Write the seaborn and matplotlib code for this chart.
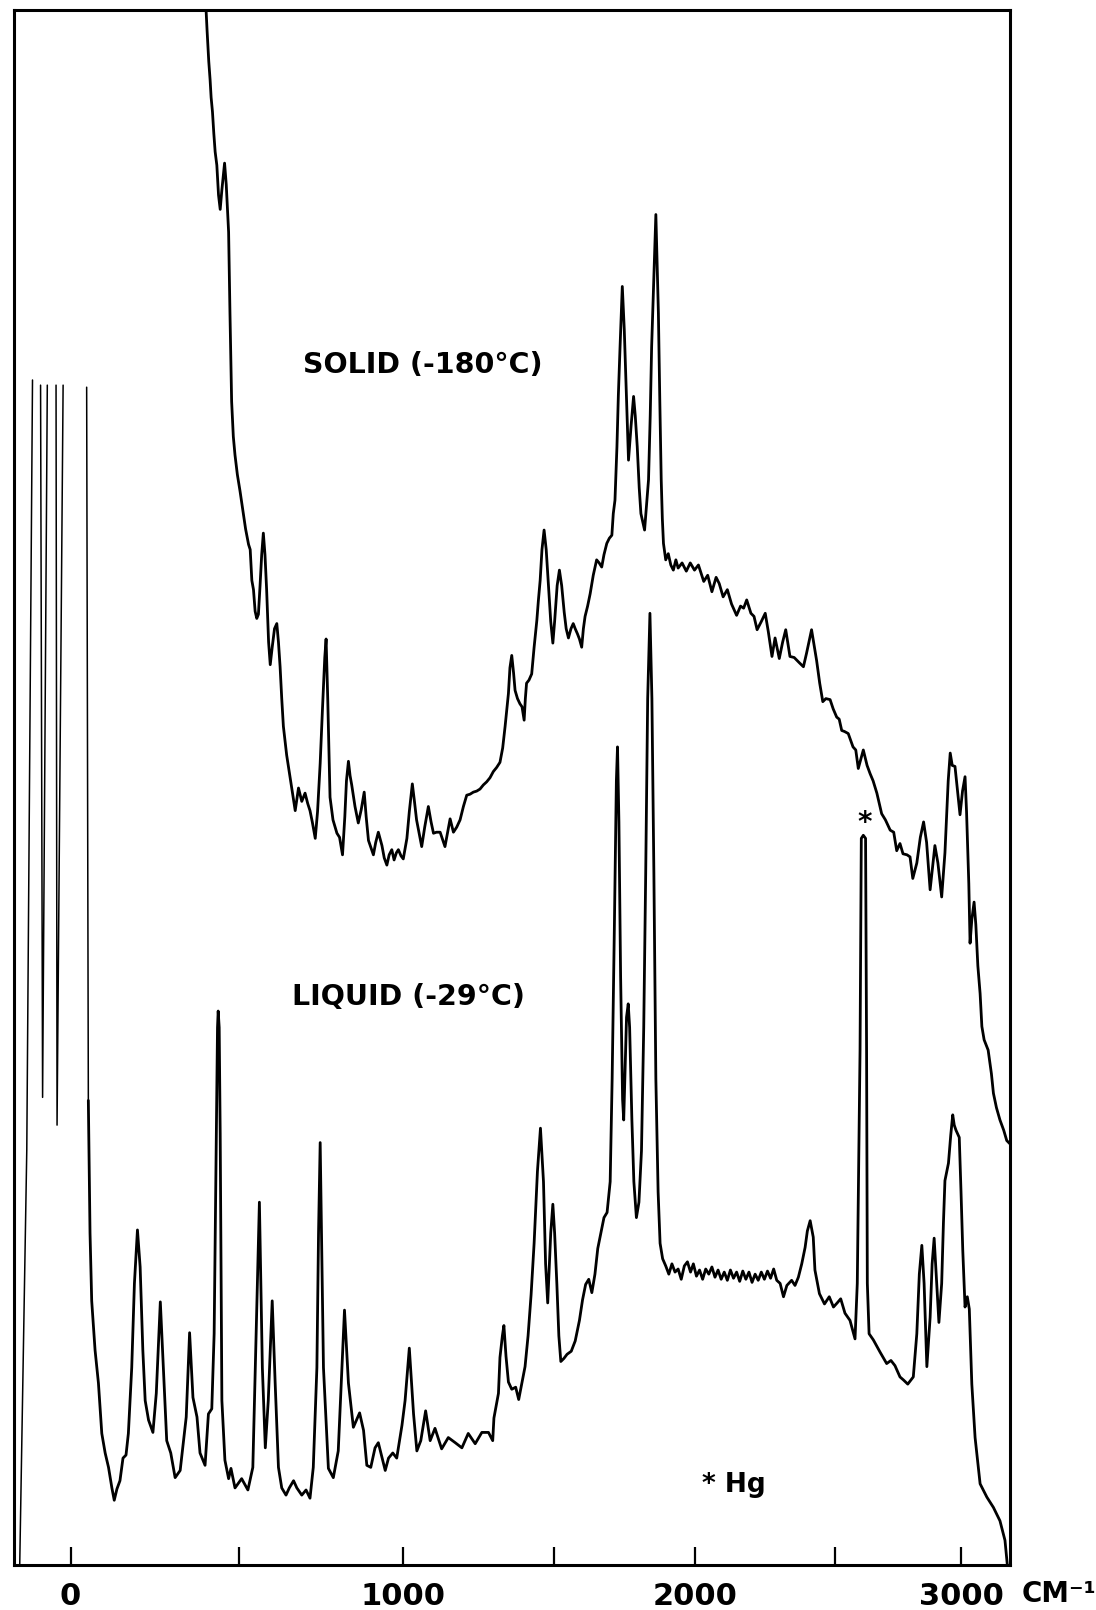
import numpy as np
import pandas as pd
import matplotlib
matplotlib.use("Agg")
import matplotlib.pyplot as plt
from matplotlib.ticker import NullLocator
import seaborn as sns

# ---------------------------------------------------------------------------
# Raman spectra (Raman shift in cm-1, recorder intensity in chart units)
# ---------------------------------------------------------------------------
solid_cm = [
    403, 406, 411, 415, 418, 422, 426, 430, 435, 440, 445, 450, 458, 463, 470, 474, 479, 484, 489, 496,
    504, 514, 521, 530, 535, 540, 545, 550, 555, 560, 565, 570, 575, 580, 585, 591, 596, 602, 609, 616,
    621, 626, 631, 636, 646, 656, 665, 672, 682, 692, 702, 710, 717, 724, 733, 740, 748, 755, 762, 766,
    771, 778, 787, 799, 807, 816, 823, 828, 834, 839, 844, 854, 864, 873, 882, 888, 895, 910, 917, 925,
    936, 943, 951, 958, 966, 973, 980, 986, 994,
    1001, 1013, 1021, 1031, 1038, 1045, 1062, 1072, 1084, 1093, 1101, 1111, 1123, 1132, 1139, 1148, 1156,
    1167, 1178, 1189, 1200, 1211, 1222, 1233, 1244, 1255, 1266, 1277, 1288, 1299, 1310, 1321, 1330, 1338,
    1344, 1349, 1354, 1360, 1366, 1371, 1379, 1387, 1394, 1401, 1405, 1409, 1417, 1426, 1434, 1443, 1448,
    1454, 1460, 1467, 1474, 1481, 1489, 1496,
    1502, 1511, 1519, 1527, 1536, 1543, 1551, 1560, 1568, 1575, 1583, 1590, 1598, 1604, 1610, 1619, 1628,
    1639, 1651, 1660, 1669, 1677, 1687, 1696, 1705, 1710, 1716, 1723, 1728, 1734, 1742, 1749, 1757, 1764,
    1773, 1782, 1788, 1795, 1802, 1808, 1821, 1827, 1835, 1841, 1846, 1854, 1861, 1865, 1870, 1875, 1880,
    1884, 1888, 1896, 1905, 1914, 1923, 1932, 1940, 1954, 1969, 1983, 1998,
    2012, 2031, 2045, 2060, 2075, 2086, 2100, 2115, 2130, 2148, 2162, 2173, 2184, 2199, 2210, 2221, 2236,
    2250, 2261, 2274, 2285, 2300, 2312, 2323, 2338, 2353, 2371, 2386, 2397, 2415, 2433, 2444, 2455, 2466,
    2481, 2492,
    2505, 2515, 2525, 2536, 2551, 2570, 2581, 2591, 2611, 2626, 2638, 2650, 2665, 2684, 2699, 2718, 2732,
    2744, 2757, 2769, 2785, 2797, 2808, 2824, 2838, 2851, 2863, 2877, 2896, 2908, 2923, 2936, 2949, 2957,
    2965, 2976, 2986, 2996, 3006, 3016, 3022, 3031, 3036, 3043, 3052, 3059, 3067, 3076, 3083, 3092, 3108,
    3121, 3129, 3141, 3155, 3170, 3182, 3194,
]
solid_int = [
    1513, 1493, 1463, 1445, 1428, 1414, 1393, 1375, 1362, 1333, 1319, 1338, 1364, 1343, 1297, 1219, 1132,
    1098, 1080, 1061,
    1045, 1023, 1008, 993, 988, 958, 949, 928, 921, 925, 953, 983, 1004, 983, 949, 898, 876, 893, 911, 916,
    898, 874, 843, 816, 788, 767, 748, 734, 756, 743, 751, 741, 734, 723, 707, 733, 780, 833, 883, 901,
    843, 747, 725, 712, 708, 691, 728, 763, 782, 768, 759, 738, 722, 735, 752, 728, 705, 691, 703, 713,
    700, 688, 681, 691, 696, 686, 693, 696, 690,
    687, 707, 733, 760, 743, 725, 699, 718, 738, 723, 712, 713, 713, 705, 699, 713, 726, 713, 718, 725,
    738, 749, 750, 752, 753, 755, 759, 762, 766, 772, 776, 781, 795, 816, 833, 848, 873, 885, 868, 851,
    843, 838, 835, 822, 843, 858, 861, 867, 893, 919, 938, 958, 988, 1007, 988, 955, 918, 897,
    918, 953, 968, 953, 927, 911, 902, 911, 916, 911, 906, 901, 893, 911, 923, 933, 945, 963, 978, 975,
    971, 983, 994, 999, 1002, 1023, 1036, 1088, 1138, 1185, 1244, 1202, 1133, 1075, 1108, 1137, 1118,
    1088, 1048, 1023, 1007, 1028, 1056, 1118, 1185, 1253, 1314, 1273, 1218, 1133, 1056, 1018, 994, 978,
    984, 973, 968, 978, 970, 975, 967, 975, 968,
    973, 957, 963, 947, 961, 955, 942, 949, 935, 924, 933, 931, 939, 926, 923, 910, 918, 926, 908, 884,
    902, 882, 898, 910, 884, 883, 878, 874, 887, 910, 880, 858, 840, 843, 842, 833,
    825, 823, 812, 811, 809, 796, 793, 775, 793, 778, 770, 763, 751, 731, 725, 715, 713, 695, 702, 692,
    691, 689, 668, 683, 708, 723, 703, 657, 700, 683, 650, 693, 763, 790, 778, 777, 753, 730, 753, 767,
    733, 663, 605, 628, 645, 623, 583, 556, 524, 511, 501, 478, 459, 445, 433, 423, 413, 410,
]

liquid_cm = [
    53, 58, 63, 73, 83, 93, 103, 113, 123, 130, 138, 147, 156, 165, 172, 182, 190, 199, 207, 215,
    222, 232, 245, 255, 267, 276, 286, 298, 311, 326, 336, 344, 354, 364, 376, 385, 400, 410, 420, 427,
    432, 437, 439, 442, 445, 450, 459, 470, 477, 489,
    509, 528, 543, 553, 563, 572, 581, 590, 602, 611, 621, 631, 644, 654, 667, 677, 692, 705, 717, 727,
    738, 743, 748, 752, 758, 773, 788, 803, 822, 834, 849, 868, 880, 890, 902, 915, 925, 946, 956, 969,
    981, 997,
    1007, 1021, 1035, 1046, 1059, 1075, 1090, 1106, 1128, 1150, 1173, 1195, 1216, 1239, 1261, 1283, 1297,
    1301, 1316, 1321, 1329, 1334, 1341, 1349, 1360, 1373, 1383, 1394, 1404, 1414, 1424, 1434, 1445, 1455,
    1465, 1472, 1479, 1489, 1496,
    1502, 1510, 1517, 1524, 1535, 1546, 1561, 1575, 1590, 1601, 1612, 1623, 1634, 1645, 1655, 1666, 1677,
    1688, 1699, 1706, 1714, 1721, 1725, 1730, 1736, 1743, 1747, 1752, 1757, 1763, 1768, 1776, 1783, 1792,
    1801, 1810, 1818, 1825, 1832, 1840, 1847, 1854, 1861, 1869, 1876, 1885, 1896, 1907, 1918, 1929, 1940,
    1951, 1962, 1973, 1984, 1994,
    2005, 2016, 2027, 2038, 2049, 2060, 2071, 2082, 2093, 2104, 2115, 2126, 2137, 2148, 2159, 2170, 2181,
    2192, 2203, 2214, 2225, 2236, 2247, 2258, 2269, 2280, 2291, 2303, 2315, 2327, 2344, 2356, 2368, 2380,
    2392, 2400, 2410, 2421, 2427, 2443, 2461, 2478, 2493,
    2507, 2521, 2538, 2558, 2578, 2587, 2598, 2603, 2611, 2620, 2624, 2627, 2634, 2651, 2678, 2704, 2721,
    2737, 2757, 2771, 2788, 2810, 2824, 2834, 2844, 2853, 2864, 2877, 2885, 2893, 2903, 2912, 2923, 2930,
    2936, 2950, 2959, 2967, 2973, 2980, 2993, 3000, 3007, 3016, 3025, 3033, 3043, 3056, 3076, 3103, 3129,
    3155, 3175, 3184,
]
liquid_int = [
    452, 323, 257, 209, 177, 128, 109, 95, 75, 63, 74, 82, 104, 107, 128, 192, 274, 326, 290, 209,
    160, 141, 129, 167, 256, 192, 121, 109, 85, 92, 121, 144, 226, 163, 144, 109, 97, 147, 152, 225,
    373, 523, 539, 523, 420, 160, 102, 84, 94, 75,
    84, 73, 95, 225, 353, 192, 114, 160, 257, 177, 95, 75, 68, 75, 82, 75, 68, 73, 65, 95,
    192, 323, 411, 323, 192, 94, 85, 111, 248, 177, 134, 148, 131, 97, 95, 114, 119, 92, 104, 109,
    104, 136,
    160, 211, 147, 111, 121, 150, 121, 133, 113, 124, 119, 114, 128, 118, 129, 129, 121, 143, 167, 202,
    223, 233, 203, 178, 171, 173, 161, 178, 193, 223, 263, 313, 383, 425, 373, 293, 255, 323, 351,
    323, 273, 223, 198, 201, 205, 208, 218, 238, 258, 273, 278, 265, 283, 308, 323, 338, 343, 373, 473,
    623, 763, 796, 723, 573, 453, 433, 483, 533, 546, 523, 433, 373, 338, 353, 403, 523, 673, 843, 926,
    843, 673, 473, 363, 313, 298, 291, 283, 293, 285, 288, 278, 291, 295, 285, 293,
    281, 287, 278, 288, 283, 290, 280, 287, 278, 285, 277, 287, 279, 285, 276, 286, 278, 285, 275, 283,
    277, 285, 278, 286, 279, 288, 277, 274, 261, 272, 277, 272, 280, 293, 309, 325, 335, 319, 287, 264,
    254, 261, 251,
    255, 259, 245, 238, 220, 274, 501, 707, 710, 707, 501, 274, 225, 219, 207, 196, 199, 194, 183, 180,
    176, 183, 225, 283, 311, 274, 193, 241, 293, 318, 274, 236, 274, 333, 374, 391, 418, 438, 428, 423,
    416, 363, 306, 251, 261, 249, 176, 124, 79, 66, 56, 43, 24, 1,
]

# Fast pen strokes through the off-scale exciting line (separate strokes)
rayleigh_cm = [-151, -130, -113, -89, -83, -69, -43, -40, -22, 48, 51, 53]
rayleigh_int = [0, 404, 1153, 1148, 455, 1148, 1148, 428, 1148, 1146, 723, 452]
rayleigh_stroke = [0, 0, 0, 1, 1, 1, 2, 2, 2, 3, 3, 3]

tick_cm = [0, 500, 1000, 1500, 2000, 2500, 3000]
tick_text = ["0", "", "1000", "", "2000", "", "3000"]

# Chart-paper calibration of the wavenumber drive (non-linear abscissa)
drive_cm = np.array([-1000, 0, 500, 1000, 1500, 2000, 2500, 3000, 5000], float)
drive_pos = np.array([-1133.2, 0, 566.6, 1120.0, 1629.0, 2104.0, 2576.9, 3000.0, 4692.4])


def to_paper(v):
    return np.interp(np.asarray(v, float), drive_cm, drive_pos)


def from_paper(p):
    return np.interp(np.asarray(p, float), drive_pos, drive_cm)


sns.set_style("white")
plt.rcParams["font.family"] = ["DejaVu Sans"]
plt.rcParams["text.color"] = "black"
plt.rcParams["xtick.color"] = "black"
plt.rcParams["axes.labelcolor"] = "black"

W, H = 1096, 1610
fig = plt.figure(figsize=(W / 100, H / 100), dpi=100)
ax = fig.add_axes([14 / W, 1 - 1565 / H, (1010 - 14) / W, (1565 - 10) / H])

solid_df = pd.DataFrame({"shift": solid_cm, "intensity": solid_int})
liquid_df = pd.DataFrame({"shift": liquid_cm, "intensity": liquid_int})
rayleigh_df = pd.DataFrame({"shift": rayleigh_cm, "intensity": rayleigh_int,
                            "stroke": rayleigh_stroke})

sns.lineplot(data=solid_df, x="shift", y="intensity", color="black", lw=2.0,
             sort=False, estimator=None, ax=ax)
sns.lineplot(data=liquid_df, x="shift", y="intensity", color="black", lw=2.0,
             sort=False, estimator=None, ax=ax)
sns.lineplot(data=rayleigh_df, x="shift", y="intensity", units="stroke",
             color="black", lw=1.1, sort=False, estimator=None, ax=ax)

ax.set_xscale("function", functions=(to_paper, from_paper))
ax.set_xlim(-168, 3195)
ax.set_ylim(0, 1513)

ax.set_xticks(tick_cm)
ax.set_xticklabels(tick_text, fontsize=22, fontweight="bold", color="black")
ax.xaxis.set_minor_locator(NullLocator())
ax.tick_params(axis="x", direction="in", length=13, width=1.6, pad=12,
               bottom=True, top=False, color="black", labelcolor="black")
ax.set_yticks([])
ax.set_xlabel("")
ax.set_ylabel("")
for side in ax.spines.values():
    side.set_linewidth(2.2)
    side.set_color("black")

ax.text(1066, 1168, "SOLID (-180°C)", ha="center", va="center",
        fontsize=20.5, fontweight="bold", color="black")
ax.text(1018, 553, "LIQUID (-29°C)", ha="center", va="center",
        fontsize=20.5, fontweight="bold", color="black")
ax.text(2617, 722, "*", ha="center", va="center", fontsize=20,
        fontweight="bold", color="black")
ax.text(2139, 78, "* Hg", ha="center", va="center", fontsize=19,
        fontweight="bold", color="black")
fig.text(1022 / W, 1 - 1594 / H, "CM⁻¹", ha="left", va="center",
         fontsize=20, fontweight="bold", color="black")

fig.savefig("out.png", dpi=100, facecolor="white")
